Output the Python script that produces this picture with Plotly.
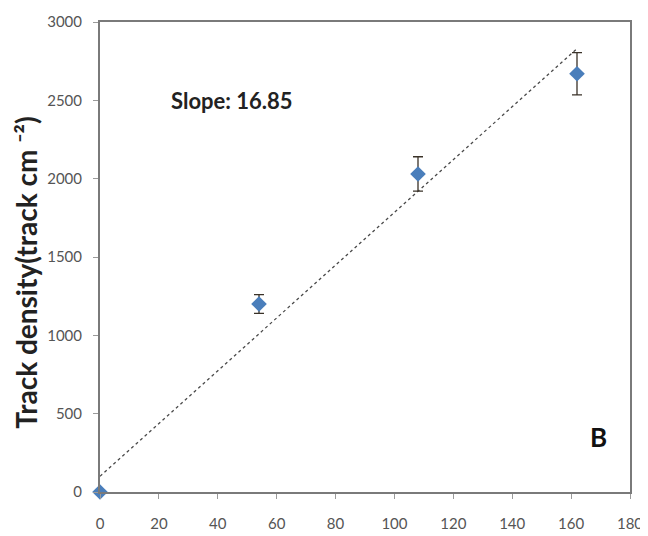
import plotly.graph_objects as go

# Data
x_vals = [0, 54, 108, 162]
y_vals = [0, 1200, 2030, 2670]
y_err = [0, 60, 110, 135]

slope = 16.85
intercept = 100
fit_x = [0, 162]
fit_y = [intercept + slope * v for v in fit_x]

x_ticks = [0, 20, 40, 60, 80, 100, 120, 140, 160, 180]
y_ticks = [0, 500, 1000, 1500, 2000, 2500, 3000]

fig = go.Figure()

fig.add_trace(go.Scatter(
    x=fit_x, y=fit_y, mode="lines",
    line=dict(color="#4a4a4a", width=1.3, dash="dot"),
    showlegend=False, hoverinfo="skip",
))

fig.add_trace(go.Scatter(
    x=x_vals, y=y_vals, mode="markers",
    marker=dict(symbol="diamond", size=12, color="#4a7ebb"),
    error_y=dict(type="data", array=y_err, visible=True,
                 color="#3a3228", thickness=1.3, width=5),
    showlegend=False, cliponaxis=False,
))

fig.add_annotation(x=0.249, y=0.832, xref="paper", yref="paper",
                   xanchor="center", yanchor="middle",
                   text="<b>Slope: 16.85</b>", showarrow=False,
                   font=dict(family="Lato", size=22, color="#222222"))
fig.add_annotation(x=0.94, y=0.117, xref="paper", yref="paper",
                   xanchor="center", yanchor="middle",
                   text="<b>B</b>", showarrow=False,
                   font=dict(family="Lato", size=26, color="#111111"))
fig.add_annotation(x=-0.14, y=0.466, xref="paper", yref="paper",
                   xanchor="center", yanchor="middle", textangle=-90,
                   text="<b>Track density(track cm ⁻²)</b>",
                   showarrow=False,
                   font=dict(family="Lato", size=28, color="#222222"))

fig.update_layout(
    width=640, height=528,
    margin=dict(l=92, r=18, t=14, b=44),
    paper_bgcolor="white", plot_bgcolor="white",
    font=dict(family="Lato", size=15, color="#555555"),
)
fig.update_xaxes(
    range=[0, 180], tickvals=x_ticks, ticktext=[str(v) for v in x_ticks],
    showgrid=False, zeroline=False, showline=True, mirror=True,
    linecolor="#7a7a7a", linewidth=2,
    ticks="outside", ticklen=5, tickcolor="#9a9a9a",
    ticklabelstandoff=12,
    tickfont=dict(size=15, color="#555555"),
    automargin=False,
)
fig.update_yaxes(
    range=[0, 3000], tickvals=y_ticks, ticktext=[str(v) for v in y_ticks],
    showgrid=False, zeroline=False, showline=True, mirror=True,
    linecolor="#7a7a7a", linewidth=2,
    ticks="outside", ticklen=5, tickcolor="#9a9a9a",
    ticklabelstandoff=8,
    tickfont=dict(size=15, color="#555555"),
    automargin=False,
)

fig.write_html("out.html")
